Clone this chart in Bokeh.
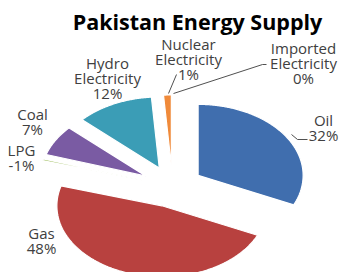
import numpy as np
from bokeh.plotting import figure
from bokeh.models import Range1d
from bokeh.core.properties import value
from bokeh.embed import file_html
from bokeh.resources import INLINE

# ---- data ----
categories = ["Oil", "Gas", "LPG", "Coal", "Hydro Electricity",
              "Nuclear Electricity", "Imported Electricity"]
shares = [32, 48, 0.4, 7, 12, 1.2, 0.0]
pct_labels = ["32%", "48%", "-1%", "7%", "12%", "1%", "0%"]
title_text = "Pakistan Energy Supply"

# ---- styles / layout ----
colors = ["#406EAE", "#B8413F", "#9BBB59", "#7A5BA3", "#3B9DB6", "#F08A3A", "#4BACC6"]
W, H = 342, 272
cx, cy = 172.0, 186.0     # pie centre (pixel space, y down)
rx, ry = 105.0, 71.0      # radii
explode = 0.29
label_pos = [(323, 127), (41, 240), (21, 157), (32, 121), (107, 77), (188, 58), (303, 62)]
line_gap = 15
FONT = "Open Sans"

p = figure(width=W, height=H, output_backend="svg", toolbar_location=None,
           x_range=Range1d(0, W), y_range=Range1d(H, 0),
           min_border=0)
p.axis.visible = False
p.grid.visible = False
p.outline_line_color = None
p.background_fill_color = "white"
p.border_fill_color = "white"

total = float(sum(shares))
start = 0.0
xs, ys, fills = [], [], []
for v, c in zip(shares, colors):
    span = 360.0 * v / total
    if v > 0:
        mid = np.radians(start + span / 2)
        ax = cx + explode * rx * np.sin(mid)
        ay = cy - explode * ry * np.cos(mid)
        th = np.radians(np.linspace(start, start + span, max(3, int(span * 2))))
        px = np.concatenate([[ax], ax + rx * np.sin(th)])
        py = np.concatenate([[ay], ay - ry * np.cos(th)])
        xs.append(list(px)); ys.append(list(py)); fills.append(c)
    start += span

p.patches(xs=xs, ys=ys, fill_color=fills, line_color="white", line_width=1.2)

# leader lines
p.multi_line(xs=[[168, 176], [173, 262, 266], [291, 297, 307]],
             ys=[[93, 74], [93, 64, 64], [134, 139, 139]],
             line_color="#505050", line_width=1)

# labels
tx, ty, tt = [], [], []
for name, pct, (lx, ly) in zip(categories, pct_labels, label_pos):
    lines = name.split(" ") + [pct]
    n = len(lines)
    for i, s in enumerate(lines):
        tx.append(lx); ty.append(ly + (i - (n - 1) / 2) * line_gap); tt.append(s)
p.text(x=tx, y=ty, text=tt, text_font=value(FONT), text_font_size="15px",
       text_color="#404040", text_align="center", text_baseline="middle")

p.text(x=[197], y=[21], text=[title_text], text_font=value(FONT),
       text_font_size="21.5px", text_font_style="bold", text_color="#000000",
       text_align="center", text_baseline="middle")

open("out.html", "w").write(file_html(p, INLINE))
